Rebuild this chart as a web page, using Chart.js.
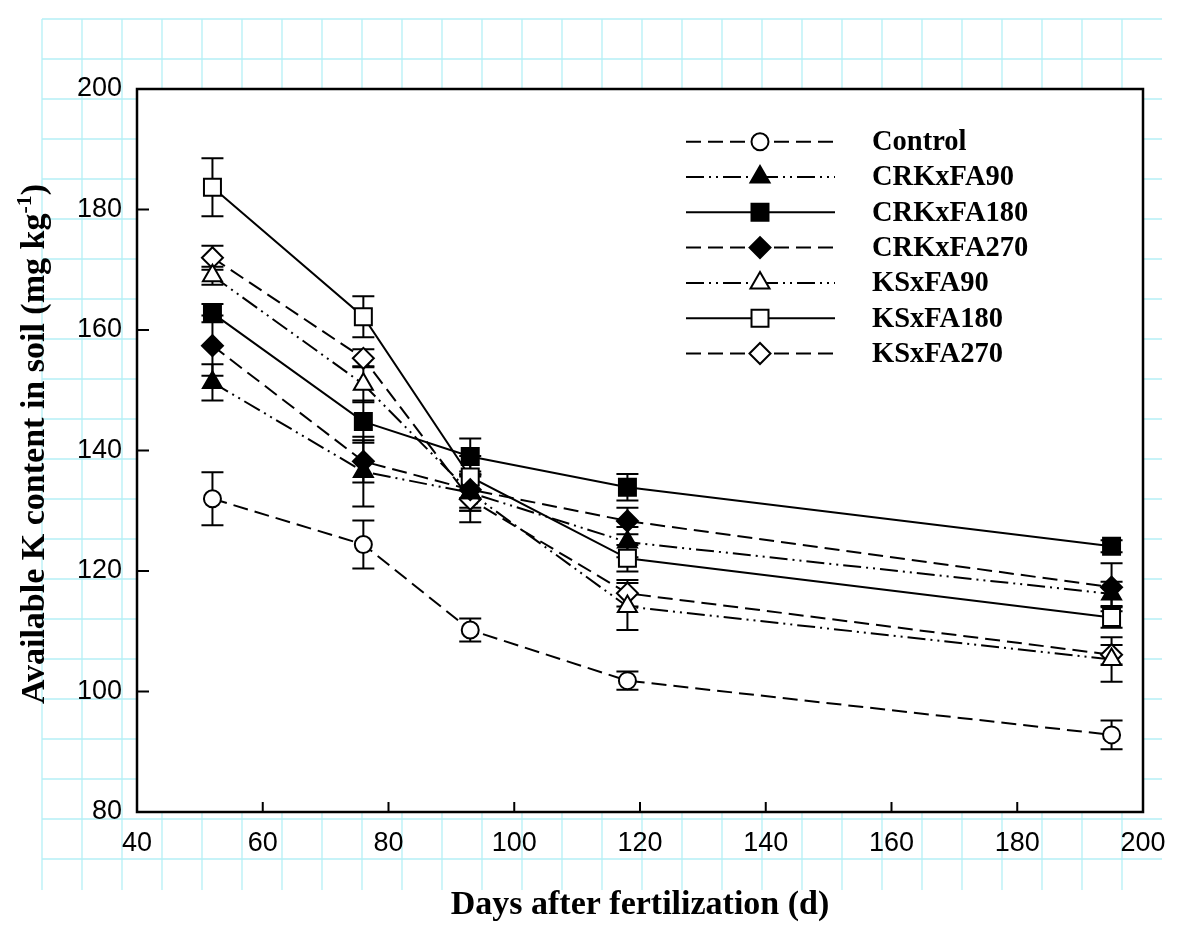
<!DOCTYPE html>
<html><head><meta charset="utf-8">
<script src="https://cdn.jsdelivr.net/npm/chart.js@4.4.1/dist/chart.umd.min.js"></script>
<style>html,body{margin:0;padding:0;background:#fff;overflow:hidden}#wrap{width:1181px;height:941px;position:relative}</style>
</head><body><div id="wrap"><canvas id="c"></canvas></div>
<script>
// ---- data ----
const days = [52, 76, 93, 118, 195];
const seriesNames = ['Control', 'CRKxFA90', 'CRKxFA180', 'CRKxFA270', 'KSxFA90', 'KSxFA180', 'KSxFA270'];
const control      = [132.0, 124.4, 110.2, 101.8, 92.8];
const controlErr   = [4.4, 4.0, 1.9, 1.5, 2.4];
const crkFA90      = [151.3, 136.5, 133.0, 124.8, 116.2];
const crkFA90Err   = [3.0, 5.8, 3.0, 2.5, 2.0];
const crkFA180     = [162.8, 144.8, 139.0, 133.9, 124.1];
const crkFA180Err  = [1.5, 3.5, 3.0, 2.2, 1.0];
const crkFA270     = [157.4, 138.2, 133.5, 128.3, 117.3];
const crkFA270Err  = [5.0, 3.5, 3.0, 2.2, 4.0];
const ksFA90       = [169.0, 151.0, 133.0, 114.1, 105.3];
const ksFA90Err    = [1.5, 3.0, 3.0, 3.9, 3.7];
const ksFA180      = [183.7, 162.2, 135.6, 122.1, 112.3];
const ksFA180Err   = [4.8, 3.4, 3.5, 2.2, 1.7];
const ksFA270      = [172.0, 155.3, 131.9, 116.3, 106.1];
const ksFA270Err   = [2.0, 1.5, 3.8, 2.2, 1.6];
const xMin = 40, xMax = 200, xStep = 20;
const yMin = 80, yMax = 200, yStep = 20;
const xTitle = 'Days after fertilization (d)';
const yTitleMain = 'Available K content in soil (mg kg';
const yTitleSup = '-1';
const yTitleEnd = ')';

const values = [control, crkFA90, crkFA180, crkFA270, ksFA90, ksFA180, ksFA270];
const errors = [controlErr, crkFA90Err, crkFA180Err, crkFA270Err, ksFA90Err, ksFA180Err, ksFA270Err];

// ---- styles ----
const DASH = [15, 7];
const DDOT = [18, 5, 2, 5, 2, 5];
const styles = [
  {dash: DASH, ps: 'circle',   r: 8.5, fill: '#fff'},
  {dash: DDOT, ps: 'triangle', r: 11,  fill: '#000'},
  {dash: [],   ps: 'rect',     r: 12,  fill: '#000'},
  {dash: DASH, ps: 'rectRot',  r: 10.5,fill: '#000'},
  {dash: DDOT, ps: 'triangle', r: 11,  fill: '#fff'},
  {dash: [],   ps: 'rect',     r: 12,  fill: '#fff'},
  {dash: DASH, ps: 'rectRot',  r: 10.5,fill: '#fff'}
];

const datasets = seriesNames.map((name, i) => ({
  label: name,
  data: days.map((d, j) => ({x: d, y: values[i][j]})),
  errors: errors[i],
  borderColor: '#000',
  borderWidth: 2,
  borderDash: styles[i].dash,
  pointStyle: styles[i].ps,
  pointRadius: styles[i].r,
  pointBackgroundColor: styles[i].fill,
  pointBorderColor: '#000',
  pointBorderWidth: 2,
  fill: false,
  tension: 0
}));

const AREA = {left: 137, top: 89, right: 1143, bottom: 812};

const bgPlugin = {
  id: 'paperbg',
  beforeDraw(chart) {
    const ctx = chart.ctx, ca = chart.chartArea;
    ctx.save();
    ctx.fillStyle = '#fff';
    ctx.fillRect(0, 0, chart.width, chart.height);
    ctx.strokeStyle = '#b5f0f6';
    ctx.lineWidth = 1.3;
    ctx.beginPath();
    for (let yy = 19; yy <= 860; yy += 40) { ctx.moveTo(42, yy); ctx.lineTo(1162, yy); }
    for (let xx = 42; xx <= 1122; xx += 40) { ctx.moveTo(xx, 19); ctx.lineTo(xx, 890); }
    ctx.stroke();
    ctx.fillStyle = '#fff';
    ctx.fillRect(ca.left, ca.top, ca.right - ca.left, ca.bottom - ca.top);
    ctx.restore();
  }
};

const errPlugin = {
  id: 'errbars',
  beforeDatasetsDraw(chart) {
    const {ctx, scales: {x, y}} = chart;
    ctx.save();
    ctx.strokeStyle = '#000';
    ctx.lineWidth = 2;
    chart.data.datasets.forEach(ds => {
      ds.data.forEach((p, j) => {
        const e = ds.errors[j];
        const px = x.getPixelForValue(p.x);
        const yt = y.getPixelForValue(p.y + e);
        const yb = y.getPixelForValue(p.y - e);
        ctx.beginPath();
        ctx.moveTo(px, yt); ctx.lineTo(px, yb);
        ctx.moveTo(px - 11, yt); ctx.lineTo(px + 11, yt);
        ctx.moveTo(px - 11, yb); ctx.lineTo(px + 11, yb);
        ctx.stroke();
      });
    });
    ctx.restore();
  }
};

function drawMarker(ctx, st, x, y) {
  ctx.save();
  ctx.fillStyle = st.fill;
  ctx.strokeStyle = '#000';
  ctx.lineWidth = 2;
  ctx.setLineDash([]);
  if (Chart.helpers && Chart.helpers.drawPoint) {
    Chart.helpers.drawPoint(ctx, {pointStyle: st.ps, radius: st.r, rotation: 0, borderWidth: 2}, x, y);
  } else {
    ctx.beginPath(); ctx.arc(x, y, st.r, 0, Math.PI * 2); ctx.fill(); ctx.stroke();
  }
  ctx.restore();
}

const framePlugin = {
  id: 'frame',
  afterDraw(chart) {
    const {ctx, chartArea: ca, scales: {x, y}} = chart;
    ctx.save();
    // frame
    ctx.strokeStyle = '#000';
    ctx.lineWidth = 2.5;
    ctx.setLineDash([]);
    ctx.strokeRect(ca.left, ca.top, ca.right - ca.left, ca.bottom - ca.top);
    // inward ticks
    ctx.lineWidth = 2;
    ctx.beginPath();
    x.ticks.forEach(t => {
      if (t.value <= xMin || t.value >= xMax) return;
      const px = x.getPixelForValue(t.value);
      ctx.moveTo(px, ca.bottom); ctx.lineTo(px, ca.bottom - 10);
    });
    y.ticks.forEach(t => {
      if (t.value <= yMin || t.value >= yMax) return;
      const py = y.getPixelForValue(t.value);
      ctx.moveTo(ca.left, py); ctx.lineTo(ca.left + 12, py);
    });
    ctx.stroke();

    // legend
    chart.data.datasets.forEach((ds, i) => {
      const ly = 141.7 + i * 35.3;
      ctx.save();
      ctx.strokeStyle = '#000';
      ctx.lineWidth = 2;
      ctx.setLineDash(ds.borderDash);
      ctx.beginPath(); ctx.moveTo(686, ly); ctx.lineTo(835, ly); ctx.stroke();
      ctx.restore();
      drawMarker(ctx, styles[i], 760, ly);
      ctx.fillStyle = '#000';
      ctx.font = 'bold 28.5px "Liberation Serif", "Times New Roman", serif';
      ctx.textBaseline = 'middle';
      ctx.textAlign = 'left';
      ctx.fillText(ds.label, 872, ly + 1);
    });

    // y title with superscript
    ctx.save();
    ctx.translate(44, 444);
    ctx.rotate(-Math.PI / 2);
    ctx.fillStyle = '#000';
    ctx.textBaseline = 'alphabetic';
    ctx.textAlign = 'left';
    const fMain = 'bold 34px "Liberation Serif", "Times New Roman", serif';
    const fSup = 'bold 22px "Liberation Serif", "Times New Roman", serif';
    ctx.font = fMain; const w1 = ctx.measureText(yTitleMain).width; const w3 = ctx.measureText(yTitleEnd).width;
    ctx.font = fSup; const w2 = ctx.measureText(yTitleSup).width;
    let u = -(w1 + w2 + w3) / 2;
    ctx.font = fMain; ctx.fillText(yTitleMain, u, 0); u += w1;
    ctx.font = fSup; ctx.fillText(yTitleSup, u, -13); u += w2;
    ctx.font = fMain; ctx.fillText(yTitleEnd, u, 0);
    ctx.restore();
    ctx.restore();
  }
};

new Chart(document.getElementById('c'), {
  type: 'line',
  data: {datasets},
  options: {
    responsive: true,
    maintainAspectRatio: false,
    animation: false,
    devicePixelRatio: 1,
    layout: {padding: {left: 0, top: AREA.top, right: 1181 - AREA.right, bottom: 0}},
    plugins: {legend: {display: false}, tooltip: {enabled: false}},
    scales: {
      x: {
        type: 'linear', min: xMin, max: xMax,
        grid: {display: false, drawTicks: false},
        border: {display: false},
        ticks: {stepSize: xStep, color: '#000', padding: 15,
          font: {family: '"Liberation Sans", Arial, sans-serif', size: 27}},
        title: {display: true, text: xTitle, color: '#000',
          font: {family: '"Liberation Serif", "Times New Roman", serif', size: 34, weight: 'bold'},
          padding: {top: 0, bottom: 15}},
        afterFit(s) { s.height = 941 - AREA.bottom; }
      },
      y: {
        type: 'linear', min: yMin, max: yMax,
        grid: {display: false, drawTicks: false},
        border: {display: false},
        ticks: {stepSize: yStep, color: '#000', padding: 15,
          font: {family: '"Liberation Sans", Arial, sans-serif', size: 27}},
        title: {display: false},
        afterFit(s) { s.width = AREA.left; }
      }
    }
  },
  plugins: [bgPlugin, errPlugin, framePlugin]
});
</script></body></html>
